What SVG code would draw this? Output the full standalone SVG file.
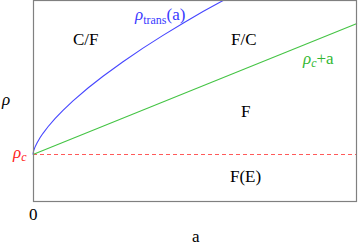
<svg xmlns="http://www.w3.org/2000/svg" width="358" height="246" viewBox="0 0 358 246">
<style>
text{font-family:"Liberation Serif","Times New Roman",serif;font-size:17px;fill:#000}
.it{font-style:italic}
.sub{font-size:12px}
.curve{fill:none;stroke-width:1.1}
</style>
<rect width="358" height="246" fill="#fff"/>
<g id="curves">
<line x1="33" y1="154.5" x2="357" y2="154.5" stroke="#ff5a5a" stroke-width="1" stroke-dasharray="4,3"/>
<line x1="33" y1="154.5" x2="357" y2="23.5" class="curve" stroke="#44c444"/>
<polyline class="curve" stroke="#4646ff" points="33,154.5 33.5,151.3 34,149.7 35,147.1 37,142.9 40,137.8 43,133.3 48,126.75 55,118.6 63,110.3 73,100.85 88,88 103,76.2 123,61.7 143,48.1 163,35.4 183,23.2 203,11.6 224,0"/>
</g>
<g id="frame">
<rect x="33.5" y="0.5" width="323" height="201" fill="none" stroke="#808080" stroke-width="1.2"/>
</g>
<g id="labels">
<text x="73" y="45">C/F</text>
<text x="231" y="45">F/C</text>
<text x="241" y="117">F</text>
<text x="230" y="182">F(E)</text>
<text x="29" y="220">0</text>
<text x="192" y="242">a</text>
<text x="2" y="105" class="it">ρ</text>
<text x="13" y="158" class="it" style="fill:#ff2020">ρ<tspan class="sub it" dy="3">c</tspan></text>
<text x="135" y="20" style="fill:#3a3aff"><tspan class="it">ρ</tspan><tspan class="sub" dy="4">trans</tspan><tspan dy="-4">(a)</tspan></text>
<text x="303" y="64" style="fill:#33b833"><tspan class="it">ρ</tspan><tspan class="sub it" dy="3">c</tspan><tspan dy="-3">+a</tspan></text>
</g>
</svg>
